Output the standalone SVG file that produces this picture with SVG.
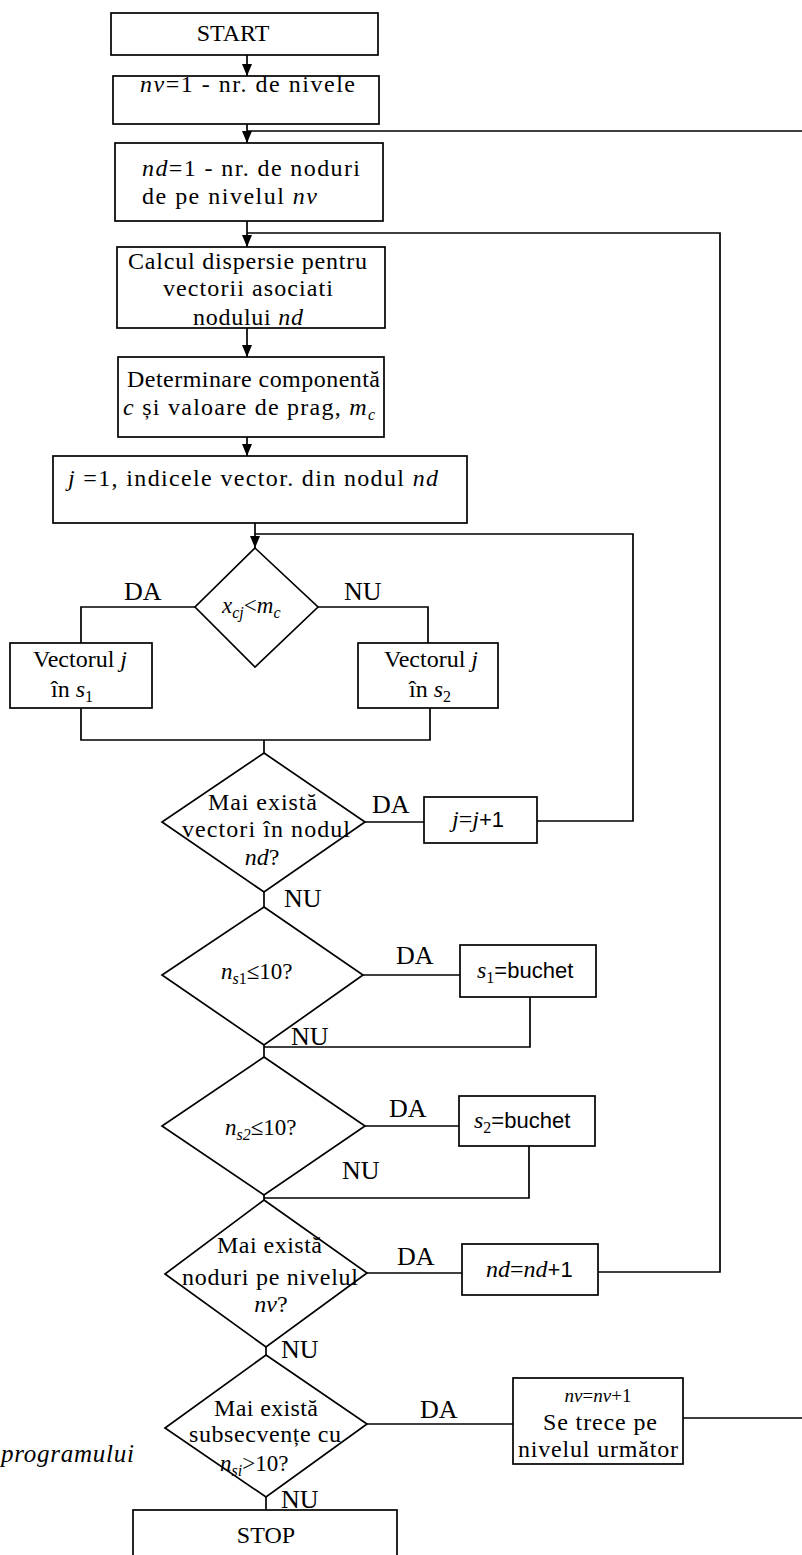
<svg xmlns="http://www.w3.org/2000/svg" width="802" height="1555" viewBox="0 0 802 1555">
<style>
.b{fill:#fff;stroke:#000;stroke-width:1.7}
.c{fill:none;stroke:#000;stroke-width:1.7}
.t{font-family:"Liberation Serif","Times New Roman",serif;font-size:24px;fill:#000}
.m{text-anchor:middle}
.i{font-style:italic}
.l{font-size:26px}
.sub{font-size:16px}
.s{font-family:"Liberation Sans",Arial,sans-serif;font-size:22px}
</style>
<defs>
<marker id="ah" viewBox="0 0 12 10" refX="12" refY="5" markerWidth="12" markerHeight="10" markerUnits="userSpaceOnUse" orient="auto">
<path d="M0,0 L12,5 L0,10 z" fill="#000"/>
</marker>
</defs>
<rect width="802" height="1555" fill="#fff"/>

<g id="connectors">
<path class="c" d="M247,55 V76" marker-end="url(#ah)"/>
<path class="c" d="M247,124 V143" marker-end="url(#ah)"/>
<path class="c" d="M247,131 H802"/>
<path class="c" d="M247,221 V247" marker-end="url(#ah)"/>
<path class="c" d="M247,233 H720 V1272 H598"/>
<path class="c" d="M247,328 V357" marker-end="url(#ah)"/>
<path class="c" d="M247,437 V456" marker-end="url(#ah)"/>
<path class="c" d="M255,523 V548" marker-end="url(#ah)"/>
<path class="c" d="M255,534 H633 V821 H537"/>
<path class="c" d="M195,607 H81 V643"/>
<path class="c" d="M318,607 H428 V643"/>
<path class="c" d="M81,708 V740 H430 V708"/>
<path class="c" d="M264,740 V753"/>
<path class="c" d="M365,822 H424"/>
<path class="c" d="M264,892 V907"/>
<path class="c" d="M363,975 H460"/>
<path class="c" d="M530,997 V1047 H264"/>
<path class="c" d="M264,1045 V1057"/>
<path class="c" d="M365,1126 H459"/>
<path class="c" d="M529,1146 V1198 H264"/>
<path class="c" d="M264,1195 V1200"/>
<path class="c" d="M367,1273 H462"/>
<path class="c" d="M266,1347 V1355"/>
<path class="c" d="M367,1424 H513"/>
<path class="c" d="M266,1497 V1510"/>
<path class="c" d="M683,1418 H802"/>
</g>

<g id="start">
<rect class="b" x="111" y="13" width="267" height="42"/>
<text class="t m" x="233" y="41">START</text>
</g>

<g id="nv-init">
<rect class="b" x="113" y="76" width="266" height="48"/>
<text class="t" x="140" y="92" textLength="215" lengthAdjust="spacing"><tspan class="i">nv</tspan>=1 - nr. de nivele</text>
</g>

<g id="nd-init">
<rect class="b" x="115" y="143" width="268" height="78"/>
<text class="t" x="142" y="176" textLength="218" lengthAdjust="spacing"><tspan class="i">nd</tspan>=1 - nr. de noduri</text>
<text class="t" x="142" y="204" textLength="175" lengthAdjust="spacing">de pe nivelul <tspan class="i">nv</tspan></text>
</g>

<g id="calcul">
<rect class="b" x="117" y="247" width="268" height="81"/>
<text class="t" x="128" y="269" textLength="239" lengthAdjust="spacing">Calcul dispersie pentru</text>
<text class="t" x="163" y="296" textLength="170" lengthAdjust="spacing">vectorii asociati</text>
<text class="t" x="193" y="325" textLength="110" lengthAdjust="spacing">nodului <tspan class="i">nd</tspan></text>
</g>

<g id="determinare">
<rect class="b" x="118" y="357" width="266" height="80"/>
<text class="t" x="127" y="387" textLength="253" lengthAdjust="spacing">Determinare componentă</text>
<text class="t" x="123" y="415" textLength="252" lengthAdjust="spacing"><tspan class="i">c</tspan> și valoare de prag, <tspan class="i">m</tspan><tspan class="i sub" dy="5">c</tspan></text>
</g>

<g id="j-init">
<rect class="b" x="53" y="456" width="414" height="67"/>
<text class="t" x="68" y="486" textLength="370" lengthAdjust="spacing"><tspan class="i">j</tspan> =1, indicele vector. din nodul <tspan class="i">nd</tspan></text>
</g>

<g id="dec-x">
<polygon class="b" points="255,548 318,607 255,667 195,607"/>
<text class="t" x="222" y="613" style="font-size:23px"><tspan class="i">x</tspan><tspan class="i sub" dy="5">cj</tspan><tspan dy="-5">&lt;</tspan><tspan class="i">m</tspan><tspan class="i sub" dy="5">c</tspan></text>
<text class="t l" x="124" y="600">DA</text>
<text class="t l" x="344" y="600">NU</text>
</g>

<g id="vec-s1">
<rect class="b" x="10" y="643" width="142" height="65"/>
<text class="t m" x="80" y="667">Vectorul <tspan class="i">j</tspan></text>
<text class="t m" x="72" y="697">în <tspan class="i">s</tspan><tspan class="sub" dy="5">1</tspan></text>
</g>

<g id="vec-s2">
<rect class="b" x="358" y="643" width="140" height="65"/>
<text class="t m" x="431" y="667">Vectorul <tspan class="i">j</tspan></text>
<text class="t m" x="430" y="697">în <tspan class="i">s</tspan><tspan class="sub" dy="5">2</tspan></text>
</g>

<g id="dec-vectori">
<polygon class="b" points="264,753 365,822 264,892 162,822"/>
<text class="t" x="208" y="810" textLength="109" lengthAdjust="spacing">Mai există</text>
<text class="t" x="182" y="837" textLength="168" lengthAdjust="spacing">vectori în nodul</text>
<text class="t m" x="262" y="865"><tspan class="i">nd</tspan>?</text>
<text class="t l" x="372" y="813">DA</text>
<text class="t l" x="284" y="907">NU</text>
</g>

<g id="j-inc">
<rect class="b" x="424" y="797" width="113" height="46"/>
<text class="t m" x="478" y="827"><tspan class="i">j</tspan>=<tspan class="i">j</tspan><tspan class="s">+1</tspan></text>
</g>

<g id="dec-ns1">
<polygon class="b" points="264,907 363,975 264,1045 162,975"/>
<text class="t" x="221" y="979" style="font-size:23px"><tspan class="i">n</tspan><tspan class="i sub" dy="5">s</tspan><tspan class="sub">1</tspan><tspan dy="-5">≤10?</tspan></text>
<text class="t l" x="396" y="964">DA</text>
<text class="t l" x="291" y="1045">NU</text>
</g>

<g id="s1-buchet">
<rect class="b" x="460" y="945" width="136" height="52"/>
<text class="t" x="477" y="978"><tspan class="i">s</tspan><tspan class="sub" dy="5">1</tspan><tspan class="s" dy="-5">=buchet</tspan></text>
</g>

<g id="dec-ns2">
<polygon class="b" points="264,1057 365,1126 264,1195 162,1126"/>
<text class="t" x="225" y="1135" style="font-size:23px"><tspan class="i">n</tspan><tspan class="i sub" dy="5">s2</tspan><tspan dy="-5">≤10?</tspan></text>
<text class="t l" x="389" y="1117">DA</text>
<text class="t l" x="342" y="1179">NU</text>
</g>

<g id="s2-buchet">
<rect class="b" x="459" y="1096" width="136" height="50"/>
<text class="t" x="474" y="1128"><tspan class="i">s</tspan><tspan class="sub" dy="5">2</tspan><tspan class="s" dy="-5">=buchet</tspan></text>
</g>

<g id="dec-noduri">
<polygon class="b" points="264,1200 367,1273 266,1347 165,1274"/>
<text class="t" x="217" y="1253" textLength="105" lengthAdjust="spacing">Mai există</text>
<text class="t" x="182" y="1285" textLength="176" lengthAdjust="spacing">noduri pe nivelul</text>
<text class="t m" x="271" y="1312"><tspan class="i">nv</tspan>?</text>
<text class="t l" x="397" y="1265">DA</text>
<text class="t l" x="281" y="1358">NU</text>
</g>

<g id="nd-inc">
<rect class="b" x="462" y="1244" width="136" height="51"/>
<text class="t" x="486" y="1277"><tspan class="i">nd</tspan>=<tspan class="i">nd</tspan><tspan class="s">+1</tspan></text>
</g>

<g id="dec-subsecvente">
<polygon class="b" points="266,1355 367,1424 266,1497 165,1428"/>
<text class="t" x="214" y="1416" textLength="104" lengthAdjust="spacing">Mai există</text>
<text class="t" x="189" y="1442" textLength="152" lengthAdjust="spacing">subsecvențe cu</text>
<text class="t" x="220" y="1471" style="font-size:23px"><tspan class="i">n</tspan><tspan class="i sub" dy="5">si</tspan><tspan dy="-5">&gt;10?</tspan></text>
<text class="t l" x="420" y="1418">DA</text>
<text class="t l" x="281" y="1508">NU</text>
</g>

<g id="nv-inc">
<rect class="b" x="513" y="1378" width="170" height="86"/>
<text class="t m" x="598" y="1402" style="font-size:19px"><tspan class="i">nv</tspan>=<tspan class="i">nv</tspan>+1</text>
<text class="t" x="543" y="1430" textLength="114" lengthAdjust="spacing">Se trece pe</text>
<text class="t" x="518" y="1457" textLength="160" lengthAdjust="spacing">nivelul următor</text>
</g>

<g id="stop">
<rect class="b" x="133" y="1510" width="264" height="60"/>
<text class="t m" x="266" y="1543">STOP</text>
</g>

<g id="caption">
<text class="t i" x="1" y="1462" style="font-size:25px" textLength="133" lengthAdjust="spacing">programului</text>
</g>
</svg>
